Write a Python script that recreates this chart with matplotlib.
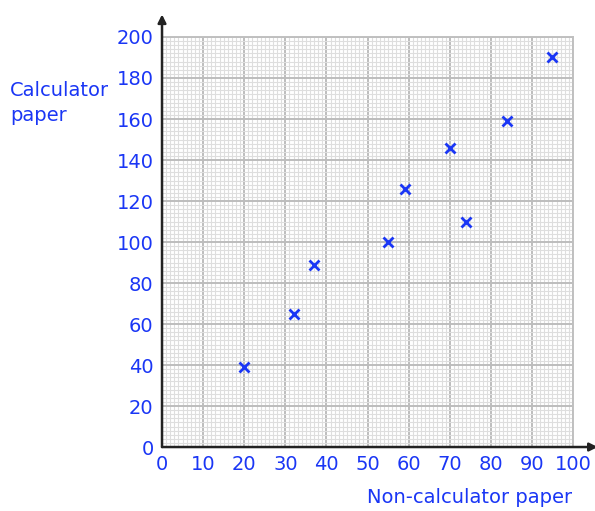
import matplotlib
matplotlib.use("Agg")
import matplotlib.pyplot as plt
import numpy as np

noncalc = [20, 32, 37, 55, 59, 70, 74, 84, 95]
calc = [39, 65, 89, 100, 126, 146, 110, 159, 190]
xticks = list(range(0, 101, 10))
yticks = list(range(0, 201, 20))

blue = "#1a36f5"
fig = plt.figure(figsize=(5.95, 5.11), dpi=100)
ax = fig.add_axes([0.2723, 0.1252, 0.6908, 0.8024])
ax.set_xlim(0, 100)
ax.set_ylim(0, 200)
ax.set_xticks(xticks)
ax.set_yticks(yticks)
ax.set_xticks(np.arange(0, 101, 1), minor=True)
ax.set_yticks(np.arange(0, 201, 2), minor=True)
ax.grid(which="minor", color="#dedede", lw=0.8)
ax.grid(which="major", color="#bdbdbd", lw=1.4)
ax.set_axisbelow(True)
ax.tick_params(which="both", length=0)
ax.tick_params(axis="x", labelsize=14, labelcolor=blue, pad=6)
ax.tick_params(axis="y", labelsize=14, labelcolor=blue, pad=6)
for s in ["top", "right"]:
    ax.spines[s].set_color("#c0c0c0")
    ax.spines[s].set_linewidth(1.4)
for s in ["left", "bottom"]:
    ax.spines[s].set_visible(False)

ax.annotate("", xy=(0, 1.055), xytext=(0, 0), xycoords="axes fraction",
            arrowprops=dict(arrowstyle="-|>", color="#222222", lw=1.8, mutation_scale=12,
                            shrinkA=0, shrinkB=0), annotation_clip=False)
ax.annotate("", xy=(1.06, 0), xytext=(0, 0), xycoords="axes fraction",
            arrowprops=dict(arrowstyle="-|>", color="#222222", lw=1.8, mutation_scale=12,
                            shrinkA=0, shrinkB=0), annotation_clip=False)

ax.plot(noncalc, calc, linestyle="none", marker="x", color=blue, ms=7, mew=2, clip_on=False, zorder=5)

fig.text(10 / 595, 1 - 103 / 511, "Calculator\npaper", color=blue, fontsize=14,
         ha="left", va="center", linespacing=1.4)
fig.text(470 / 595, 1 - 497 / 511, "Non-calculator paper", color=blue, fontsize=14,
         ha="center", va="center")

fig.savefig("out.png", dpi=100)
